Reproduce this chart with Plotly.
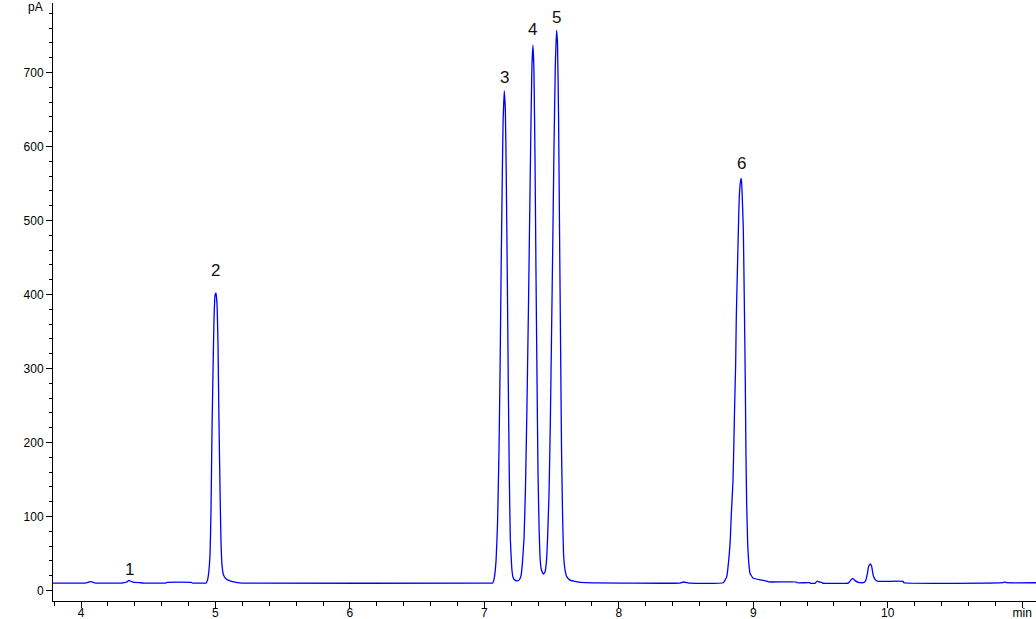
import plotly.graph_objects as go

# ---- data (time in min, signal in pA) ----
time_min = [
    3.790, 4.030, 4.060, 4.075, 4.090, 4.110, 4.300, 4.340, 4.357, 4.375, 4.400, 4.440, 4.480,
    4.630, 4.640, 4.820, 4.830, 4.925,
    4.930, 4.941, 4.952, 4.960, 4.967, 4.974, 4.982, 4.989, 4.997, 5.004, 5.012, 5.019, 5.026,
    5.034, 5.041, 5.049, 5.060, 5.078, 5.108, 5.153, 5.200,
    7.000, 7.062, 7.072, 7.087, 7.098, 7.109, 7.117, 7.124, 7.132, 7.139, 7.148, 7.156, 7.163,
    7.171, 7.178, 7.186, 7.193, 7.204, 7.213, 7.228, 7.245, 7.258, 7.273,
    7.282, 7.295, 7.306, 7.317, 7.327, 7.336, 7.345, 7.354, 7.362, 7.369, 7.377, 7.384, 7.392,
    7.399, 7.407, 7.414, 7.424, 7.439, 7.451, 7.462,
    7.470, 7.481, 7.491, 7.500, 7.509, 7.518, 7.528, 7.537, 7.544, 7.552, 7.559, 7.567, 7.574,
    7.582, 7.589, 7.600, 7.615, 7.637, 7.682, 7.749,
    8.450, 8.480, 8.530, 8.777,
    8.803, 8.820, 8.829, 8.837, 8.849, 8.855, 8.862, 8.869, 8.874, 8.881, 8.889, 8.896, 8.907,
    8.911, 8.916, 8.926, 8.933, 8.941, 8.946, 8.951, 8.959, 8.966, 8.976, 9.000, 9.063, 9.110,
    9.115, 9.320, 9.325, 9.420, 9.425, 9.460, 9.476, 9.500, 9.509, 9.515,
    9.707, 9.725, 9.740, 9.760, 9.781, 9.819, 9.836, 9.848, 9.859, 9.871, 9.880, 9.893, 9.910,
    9.928, 10.114, 10.120, 10.860, 10.870, 10.880, 11.110,
]
signal_pA = [
    10.0, 10.0, 11.5, 12.0, 11.0, 10.0, 10.0, 11.5, 13.5, 12.0, 11.0, 10.5, 10.0,
    10.0, 11.0, 11.0, 10.0, 10.0,
    10.0, 14.0, 28.0, 51.0, 109.0, 213.0, 298.0, 365.0, 399.0, 402.0, 386.0, 332.0, 230.0,
    136.0, 68.0, 34.0, 21.0, 16.0, 13.0, 11.0, 10.0,
    10.0, 10.0, 15.0, 40.0, 90.0, 190.0, 300.0, 420.0, 540.0, 630.0, 675.0, 650.0, 560.0,
    420.0, 280.0, 150.0, 70.0, 30.0, 18.0, 14.0, 13.0, 14.0, 20.0,
    35.0, 70.0, 140.0, 250.0, 370.0, 490.0, 610.0, 710.0, 737.0, 700.0, 580.0, 430.0, 280.0,
    160.0, 85.0, 45.0, 28.0, 22.0, 25.0, 40.0,
    70.0, 130.0, 230.0, 350.0, 470.0, 600.0, 710.0, 757.0, 740.0, 640.0, 490.0, 330.0, 190.0,
    100.0, 50.0, 28.0, 18.0, 14.0, 12.0, 10.5,
    10.0, 11.5, 10.0, 10.5,
    18.7, 45.7, 68.0, 104.0, 147.0, 192.0, 253.0, 305.0, 370.0, 424.0, 485.0, 532.0, 555.0,
    557.0, 543.0, 489.0, 399.0, 278.0, 181.0, 118.0, 61.0, 39.0, 23.0, 16.5, 14.0, 12.0,
    11.5, 11.5, 10.5, 10.5, 9.7, 9.7, 12.8, 11.0, 11.0, 10.0,
    10.0, 14.0, 16.5, 13.0, 11.0, 10.5, 13.0, 22.0, 33.0, 36.0, 33.0, 20.0, 14.0,
    12.4, 12.4, 10.5, 10.5, 11.5, 10.5, 10.5,
]

peak_labels = ["1", "2", "3", "4", "5", "6"]
peak_times = [4.357, 5.004, 7.148, 7.357, 7.535, 8.911]
peak_heights = [13.5, 402.0, 675.0, 737.0, 757.0, 557.0]

x_tick_vals = [4, 5, 6, 7, 8, 9, 10, 11]
x_tick_text = ["4", "5", "6", "7", "8", "9", "10", "min"]
y_tick_vals = [0, 100, 200, 300, 400, 500, 600, 700]

# ---- figure ----
fig = go.Figure()
fig.add_trace(go.Scatter(
    x=time_min, y=signal_pA, mode="lines",
    line=dict(color="#0000FF", width=1.3, shape="spline", smoothing=0.3),
    hoverinfo="skip", showlegend=False,
))

label_shift = [11, 23, 13, 16, 13, 15]
for lab, t, h, s in zip(peak_labels, peak_times, peak_heights, label_shift):
    fig.add_annotation(
        x=t, y=h, text=lab, showarrow=False, xanchor="center", yanchor="middle",
        yshift=s, font=dict(family="Liberation Sans, Arial, sans-serif", size=17, color="#111111"),
    )

fig.add_annotation(
    xref="paper", yref="paper", x=-0.008, y=0.993, text="pA", showarrow=False,
    xanchor="right", yanchor="middle",
    font=dict(family="Liberation Sans, Arial, sans-serif", size=12, color="#000000"),
)

axis_font = dict(family="Liberation Sans, Arial, sans-serif", size=12, color="#000000")
fig.update_layout(
    width=1036, height=619,
    margin=dict(l=53, r=0, t=3, b=18, pad=0),
    paper_bgcolor="white", plot_bgcolor="white",
    xaxis=dict(
        range=[3.7917, 11.103], tickvals=x_tick_vals, ticktext=x_tick_text,
        automargin=False, ticklabelstandoff=-5,
        showgrid=False, zeroline=False, showline=True, linecolor="black", linewidth=1,
        ticks="outside", ticklen=6, tickcolor="black", tickfont=axis_font,
        minor=dict(dtick=0.2, tick0=4, ticks="outside", ticklen=4, tickcolor="black", showgrid=False),
    ),
    yaxis=dict(
        range=[-14.2, 793.9], tickvals=y_tick_vals,
        automargin=False,
        showgrid=False, zeroline=False, showline=True, linecolor="black", linewidth=1,
        ticks="outside", ticklen=6, tickcolor="black", tickfont=axis_font,
        minor=dict(dtick=20, tick0=0, ticks="outside", ticklen=3, tickcolor="black", showgrid=False),
    ),
)

fig.write_html(
    "out.html",
    config={"displayModeBar": False},
    post_script="document.body.style.margin='0';document.body.style.overflow='hidden';",
)
